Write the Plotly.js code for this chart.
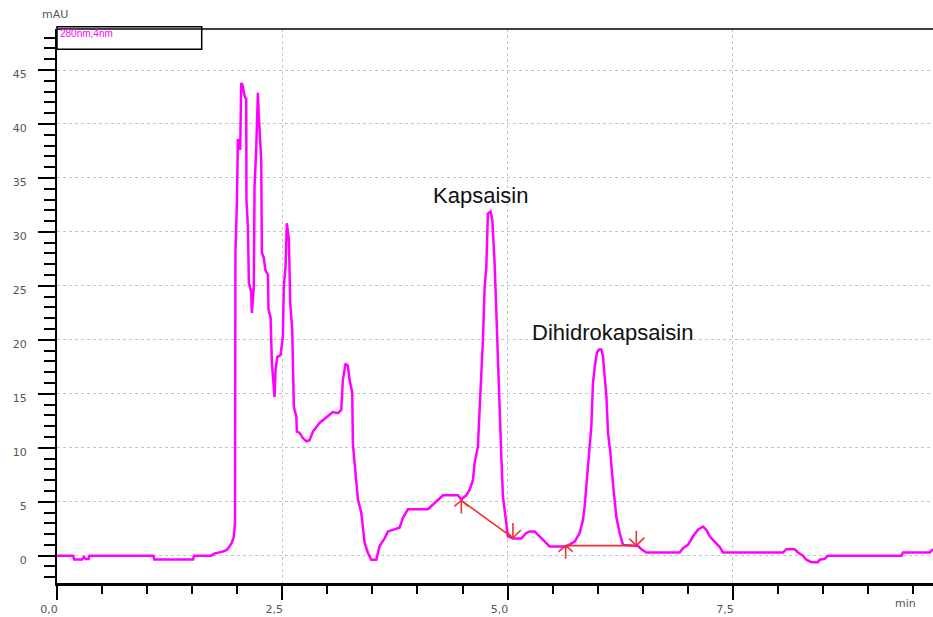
<!DOCTYPE html>
<html>
<head>
<meta charset="utf-8">
<script src="https://cdn.plot.ly/plotly-3.0.1.min.js"></script>
<style>html,body{margin:0;padding:0;background:#fff;}#chart{width:933px;height:617px;}</style>
</head>
<body>
<div id="chart"></div>
<script>
// Retention time (min) of the chromatogram trace
const timeMin = [
  0.00,0.18,0.19,0.28,0.30,0.32,0.35,0.36,1.07,1.08,1.51,1.52,1.71,1.75,1.83,1.88,1.91,1.94,1.96,1.97,1.975,
  1.98,1.996,2.007,2.026,2.033,2.044,2.059,2.07,2.084,2.10,2.102,2.118,2.129,2.155,2.162,2.184,2.192,2.21,2.229,
  2.24,2.266,2.273,2.295,2.311,2.34,2.347,2.37,2.384,2.414,2.425,2.444,2.48,2.506,2.517,2.536,2.55,2.573,2.588,
  2.61,2.628,2.655,2.662,2.69,2.728,2.766,2.802,2.84,2.913,2.988,3.06,3.117,3.154,3.172,3.202,3.228,3.246,3.276,
  3.283,3.302,3.339,3.376,3.394,3.413,3.45,3.487,3.543,3.56,3.579,3.635,3.672,3.801,3.838,3.894,4.115,4.245,4.282,
  4.448,4.486,4.542,4.578,4.615,4.634,4.67,4.708,4.726,4.745,4.764,4.781,4.811,4.83,4.856,4.875,4.892,4.911,4.93,
  4.948,4.967,4.985,5.003,5.059,5.152,5.207,5.244,5.30,5.355,5.466,5.651,5.744,5.799,5.836,5.855,5.873,5.891,5.91,
  5.929,5.947,5.966,5.991,6.013,6.04,6.058,6.077,6.096,6.114,6.14,6.169,6.206,6.243,6.28,6.446,6.484,6.539,6.909,
  6.946,7.001,7.057,7.112,7.168,7.205,7.242,7.297,7.353,7.39,8.056,8.093,8.185,8.222,8.277,8.314,8.37,8.444,8.463,
  8.518,8.555,9.37,9.387,9.684,9.72
];
// Absorbance (mAU)
const absorbance = [
  0,0,-0.35,-0.35,-0.1,-0.3,-0.3,0,0,-0.35,-0.35,0,0,0.2,0.35,0.5,0.8,1.2,1.7,2.3,3.0,
  28.1,32.7,38.5,38.5,37.6,43.8,43.6,43.1,42.5,42.3,33,30.5,25.3,24.4,22.5,24.9,34.2,37.6,42.9,
  40.6,36.7,28.1,27.6,26.5,26,22.8,22.1,17.9,14.7,17.2,18.4,18.6,20.3,24.9,26.8,30.8,29.3,23.4,
  20.9,13.8,12.9,11.5,11.4,10.9,10.6,10.7,11.5,12.3,12.8,13.3,13.2,13.5,16.3,17.8,17.6,16.3,15.1,
  10.4,8.6,5.2,4.0,2.4,1.2,0.25,-0.37,-0.37,0.4,0.9,1.6,2.25,2.6,3.5,4.3,4.3,5.3,5.6,
  5.6,5.2,5.6,6.1,7.0,8.6,10.1,16.3,20,24.9,26.8,31.7,31.9,31.1,27.1,22.5,17.8,14.8,9.2,
  5.5,4.0,2.7,1.8,1.6,1.6,2.1,2.25,2.25,1.8,0.86,0.86,1.3,2.1,3.3,4.6,6.4,7.7,9.8,
  12,16,17.5,18.8,19.1,19.1,18.5,16.6,14.8,11.4,9.5,6.7,3.6,2.1,1.0,0.9,0.6,0.3,0.3,
  0.7,1.0,1.8,2.4,2.7,2.4,1.8,1.3,0.8,0.3,0.3,0.6,0.6,0.3,0,-0.37,-0.6,-0.6,-0.37,
  -0.3,0,0,0.3,0.3,0.6
];
// Peak names and label positions
const peakNames = ['Kapsaisin', 'Dihidrokapsaisin'];
const peakLabelTime = [4.697, 6.16];
const peakLabelY = [33.4, 20.7];
// Integration baselines (start / end of each peak)
const baseStartTime = [4.486, 5.644];
const baseStartY = [5.12, 0.93];
const baseEndTime = [5.059, 6.428];
const baseEndY = [1.64, 0.93];
// Axis ticks
const yTickVals = [0,5,10,15,20,25,30,35,40,45];
const xTickVals = [0, 2.5, 5.0, 7.5];
const channelLabel = '280nm,4nm';

const W = 933, H = 617;
const mL = 57, mR = 0, mT = 29, mB = 34;
const xRange = [0, 9.72];
const yRange = [-2.53, 48.8];
const plotW = W - mL - mR, plotH = H - mT - mB;
const pxX = (xRange[1]-xRange[0]) / plotW;   // min per px
const pxY = (yRange[1]-yRange[0]) / plotH;   // mAU per px

// Build baseline segments and marker glyphs
const redX = [], redY = [];
for (let i = 0; i < baseStartTime.length; i++) {
  redX.push(baseStartTime[i], baseEndTime[i], null);
  redY.push(baseStartY[i], baseEndY[i], null);
}
const mkX = [], mkY = [];
for (let i = 0; i < baseStartTime.length; i++) {
  // start marker: stem below, arrow head pointing up
  const sx = baseStartTime[i], sy = baseStartY[i];
  mkX.push(sx, sx, null, sx - 7*pxX, sx, sx + 7*pxX, null);
  mkY.push(sy, sy - 13*pxY, null, sy - 6*pxY, sy, sy - 6*pxY, null);
  // end marker: stem above, arrow head pointing down
  const ex = baseEndTime[i], ey = baseEndY[i];
  mkX.push(ex, ex, null, ex - 7*pxX, ex, ex + 8*pxX, null);
  mkY.push(ey, ey + 15*pxY, null, ey + 7*pxY, ey, ey + 8*pxY, null);
}

const traces = [
  { x: timeMin, y: absorbance, type: 'scatter', mode: 'lines',
    line: { color: '#ff00ff', width: 2.5 }, hoverinfo: 'skip', cliponaxis: true },
  { x: redX, y: redY, type: 'scatter', mode: 'lines',
    line: { color: '#f03030', width: 1.6 }, hoverinfo: 'skip' },
  { x: mkX, y: mkY, type: 'scatter', mode: 'lines',
    line: { color: '#f03030', width: 1.6 }, hoverinfo: 'skip' }
];

const annotations = peakNames.map((n, i) => ({
  x: peakLabelTime[i], y: peakLabelY[i], xref: 'x', yref: 'y',
  text: n, showarrow: false, xanchor: 'center', yanchor: 'middle',
  font: { family: 'Liberation Sans, Arial, sans-serif', size: 22, color: '#111' }
}));
annotations.push(
  { xref: 'paper', yref: 'paper', x: (40 - mL)/plotW, y: 1 + (mT - 6)/plotH,
    text: 'mAU', showarrow: false, xanchor: 'left', yanchor: 'top',
    font: { family: 'DejaVu Sans, sans-serif', size: 11, color: '#555' } },
  { xref: 'paper', yref: 'paper', x: (893 - mL)/plotW, y: -(603 - (H - mB))/plotH,
    text: 'min', showarrow: false, xanchor: 'left', yanchor: 'middle',
    font: { family: 'DejaVu Sans, sans-serif', size: 11, color: '#555' } },
  { xref: 'paper', yref: 'paper', x: 1/plotW, y: 1 + 3/plotH,
    text: channelLabel, showarrow: false, xanchor: 'left', yanchor: 'top',
    font: { family: 'Liberation Sans, Arial, sans-serif', size: 10, color: '#ff00ff' } }
);

const layout = {
  width: W, height: H,
  margin: { l: mL, r: mR, t: mT, b: mB, pad: 0 },
  paper_bgcolor: '#fff', plot_bgcolor: '#fff',
  showlegend: false,
  separators: ',.',
  xaxis: {
    range: xRange, tickvals: xTickVals, tickformat: '.1f',
    showline: true, linecolor: '#000', linewidth: 3,
    ticks: 'outside', ticklen: 14, tickwidth: 2, tickcolor: '#000',
    showgrid: true, gridcolor: '#c4c4c4', griddash: 'dot', gridwidth: 1,
    zeroline: false,
    minor: { dtick: 0.5, tick0: 0, ticks: 'outside', ticklen: 8, tickwidth: 2, tickcolor: '#000', showgrid: false },
    tickfont: { family: 'DejaVu Sans, sans-serif', size: 11, color: '#555' },
    ticklabelshift: -8, ticklabelstandoff: 0,
    fixedrange: true
  },
  yaxis: {
    range: yRange, tickvals: yTickVals,
    showline: true, linecolor: '#000', linewidth: 2,
    ticks: 'outside', ticklen: 17, tickwidth: 2, tickcolor: '#000',
    showgrid: true, gridcolor: '#c4c4c4', griddash: 'dot', gridwidth: 1,
    zeroline: false,
    minor: { dtick: 1, tick0: 0, ticks: 'outside', ticklen: 11, tickwidth: 2, tickcolor: '#000', showgrid: false },
    tickfont: { family: 'DejaVu Sans, sans-serif', size: 11, color: '#555' },
    ticklabelshift: 4, ticklabelstandoff: 9,
    fixedrange: true
  },
  shapes: [
    { type: 'line', xref: 'paper', yref: 'paper', x0: 0, x1: 1, y0: 1, y1: 1,
      line: { color: '#000', width: 1.5 } },
    { type: 'rect', xref: 'paper', yref: 'paper',
      x0: 0, x1: (201.7 - mL)/plotW, y0: 1 - 20.3/plotH, y1: 1 + 2.3/plotH,
      line: { color: '#000', width: 1.5 }, fillcolor: 'rgba(0,0,0,0)' }
  ],
  annotations: annotations
};

Plotly.newPlot('chart', traces, layout, { staticPlot: true, displayModeBar: false });
</script>
</body>
</html>
